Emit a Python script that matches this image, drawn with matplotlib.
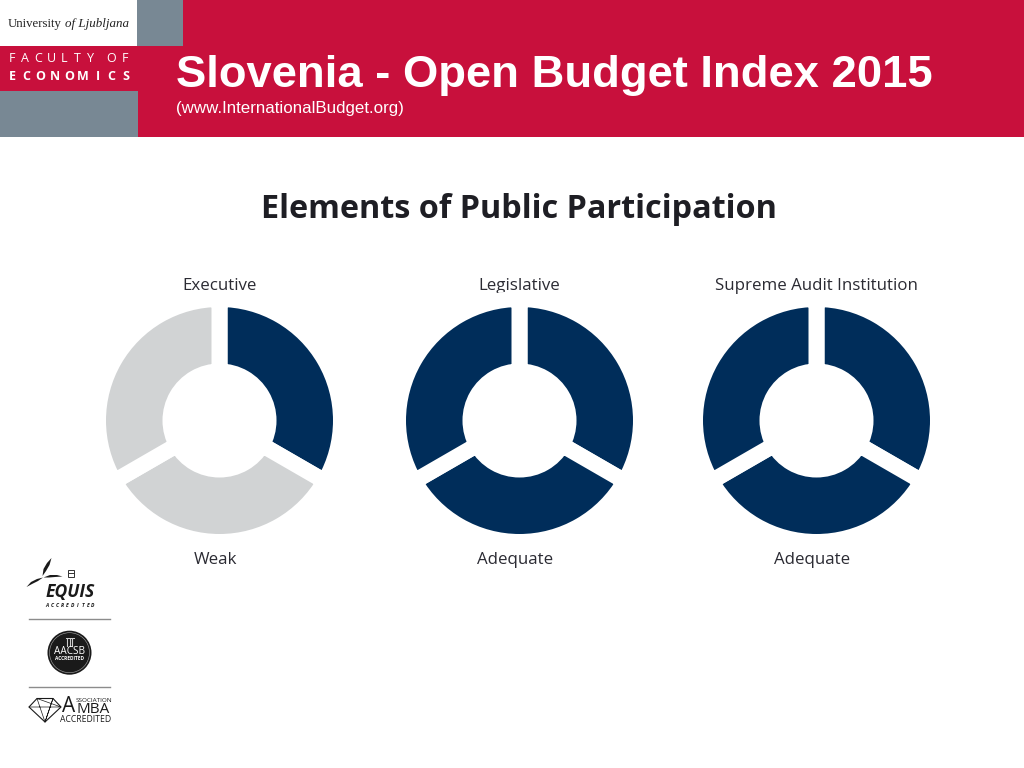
import matplotlib
matplotlib.use("Agg")
import matplotlib.pyplot as plt
from matplotlib.patches import Rectangle, Circle, Polygon

panel_titles = ["Executive", "Legislative", "Supreme Audit Institution"]
panel_ratings = ["Weak", "Adequate", "Adequate"]
segment_values = [1, 1, 1]
segment_states = [[1, 0, 0], [1, 1, 1], [1, 1, 1]]
title_text = "Slovenia - Open Budget Index 2015"
subtitle_text = "(www.InternationalBudget.org)"
heading_text = "Elements of Public Participation"

W, H = 1024, 768
RED, GREY, NAVY, LIGHT, INK = "#C8103C", "#788894", "#002D5A", "#D1D3D4", "#2B2B33"
fig = plt.figure(figsize=(W / 100, H / 100), dpi=100, facecolor="white")
bg = fig.add_axes([0, 0, 1, 1])
bg.set_xlim(0, W); bg.set_ylim(H, 0); bg.axis("off")


def spaced(word, x0, x1, y, **kw):
    step = (x1 - x0) / max(len(word) - 1, 1)
    for i, ch in enumerate(word):
        bg.text(x0 + i * step, y, ch, ha="center", va="center", **kw)


# header
bg.add_patch(Rectangle((138, 45), W - 138, 92, color=RED, lw=0))
bg.add_patch(Rectangle((183, 0), W - 183, 46, color=RED, lw=0))
bg.add_patch(Rectangle((137, 0), 46, 45.5, color=GREY, lw=0))
bg.add_patch(Rectangle((0, 46), 138, 45, color=RED, lw=0))
bg.add_patch(Rectangle((0, 91), 138, 46, color=GREY, lw=0))
bg.text(8, 23.5, "University", family="Liberation Serif", fontsize=9.2, color="#222222", va="center")
bg.text(65, 23.5, "of Ljubljana", family="Liberation Serif", style="italic", fontsize=9.4, color="#222222", va="center")
spaced("FACULTY", 12, 90, 59, family="Open Sans", fontsize=9, color="white")
spaced("OF", 111, 125, 59, family="Open Sans", fontsize=9, color="white")
spaced("ECONOMICS", 12, 126, 77, family="Open Sans", weight="bold", fontsize=9, color="white")
bg.text(176, 76, title_text, family="Liberation Sans", weight="bold", fontsize=32.7, color="white", va="center")
bg.text(176, 108, subtitle_text, family="Liberation Sans", fontsize=12.2, color="white", va="center")
bg.text(519, 209, heading_text, family="Open Sans", weight="bold", fontsize=23.3, color="#1E1E24", ha="center", va="center")

# donuts
centers = [219.5, 519.5, 816.5]
CY, R_OUT, R_IN, GAP = 420.5, 113.5, 57, 16
for cx, name, rating, states in zip(centers, panel_titles, panel_ratings, segment_states):
    r = R_OUT + GAP / 2
    ax = fig.add_axes([(cx - r) / W, 1 - (CY + r) / H, 2 * r / W, 2 * r / H])
    colors = [NAVY if s else LIGHT for s in states]
    ax.pie(segment_values, colors=colors, startangle=90, counterclock=False, radius=1,
           wedgeprops=dict(width=(R_OUT - R_IN + GAP) / r, edgecolor="white", linewidth=GAP * 0.72))
    ax.set_xlim(-1, 1); ax.set_ylim(-1, 1)
    bg.text(cx, 286, name, family="Open Sans", fontsize=12.2, color=INK, ha="center", va="center")
    bg.text(cx - 4, 560, rating, family="Open Sans", fontsize=12.2, color=INK, ha="center", va="center")

# accreditation logos
DARK = "#1a1a1a"
bg.add_patch(Polygon([(42.5, 576), (43.5, 569), (47, 563), (51.5, 558), (49.5, 565), (46, 571)], color=DARK, lw=0))
bg.add_patch(Polygon([(26.5, 587), (31, 582), (37, 579), (43, 577.5), (38, 581), (32, 584)], color=DARK, lw=0))
bg.add_patch(Polygon([(43.5, 577.5), (50, 575), (57, 575), (62.5, 576.5), (55, 577), (49, 577.5)], color=DARK, lw=0))
bg.add_patch(Rectangle((67.5, 569.5), 6, 7.5, fill=False, ec="#333333", lw=0.7))
bg.plot([67.5, 73.5], [573.2, 573.2], color="#333333", lw=0.7)
bg.text(70, 591.5, "EQUIS", family="Open Sans", weight="bold", style="italic", fontsize=12.6, color=DARK, ha="center", va="center")
spaced("ACCREDITED", 47, 93, 605.5, family="Open Sans", weight="bold", style="italic", fontsize=3.6, color=DARK)
bg.plot([29, 110], [619, 619], color="#8c8c8c", lw=1)
bg.add_patch(Circle((69.5, 652.7), 22, color=DARK, lw=0))
bg.add_patch(Circle((69.5, 652.7), 20, fill=False, ec="#aaaaaa", lw=0.4))
bg.text(69.5, 652, "AACSB", family="Open Sans", fontsize=7.2, color="white", ha="center", va="center")
bg.text(69.5, 659, "ACCREDITED", family="Open Sans", weight="bold", fontsize=3.5, color="white", ha="center", va="center")
bg.add_patch(Rectangle((65.5, 637.5), 9, 1.2, color="#cccccc", lw=0))
for px in (67, 69.5, 72):
    bg.plot([px, px], [639, 646], color="#cccccc", lw=0.8)
bg.plot([29, 110], [686.5, 686.5], color="#8c8c8c", lw=1)
bg.add_patch(Polygon([(29, 707), (37, 698.5), (53, 698.5), (61, 707), (45, 722)], fill=False, ec=DARK, lw=0.8))
bg.plot([29, 61, 37, 45, 53, 45], [707, 707, 698.5, 722, 698.5, 722], color=DARK, lw=0.5)
bg.text(62, 706.5, "A", family="Open Sans", fontsize=15, color=DARK, ha="left", va="center")
bg.text(76, 709.5, "MBA", family="Open Sans", fontsize=11, color=DARK, ha="left", va="center")
bg.text(76, 701, "SSOCIATION", family="Open Sans", fontsize=4.6, color=DARK, ha="left", va="center")
bg.text(85.5, 719.5, "ACCREDITED", family="Open Sans", fontsize=6.2, color=DARK, ha="center", va="center")

fig.savefig("out.png", dpi=100, facecolor="white")
